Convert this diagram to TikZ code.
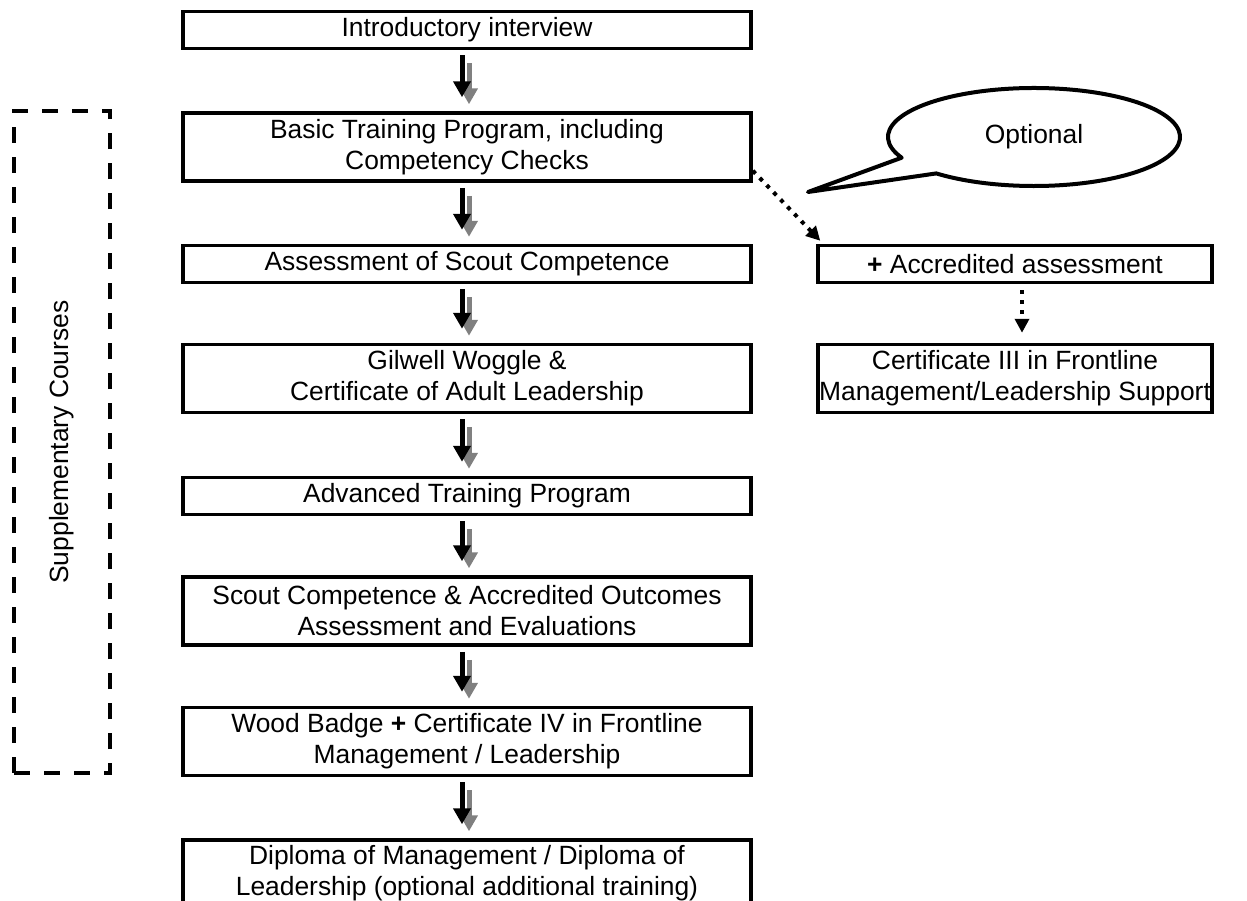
\documentclass[tikz,border=0pt]{standalone}
\usepackage{fontspec}
\setmainfont{Liberation Sans}
\usetikzlibrary{arrows.meta,calc}
\begin{document}
\begin{tikzpicture}[x=0.5pt,y=-0.5pt,
  txt/.style={font=\fontsize{13.2}{15.5}\selectfont},
  box/.style={txt, draw, line width=1.75pt, fill=white, align=center, inner sep=0pt, minimum width=284pt},
  boxa/.style={box, minimum height=18.5pt},
  boxb/.style={box, minimum height=34pt},
  rbox/.style={box, minimum width=197pt},
  blk/.style={line width=2.5pt, -{Triangle[width=8.5pt,length=8pt]}},
  shd/.style={blk, draw=black!50},
  dots/.style={line width=2pt, dash pattern=on 2pt off 3pt, -{Triangle[width=7pt,length=7pt]}},
  supp/.style={draw, line width=2pt, dash pattern=on 8pt off 7pt, minimum width=48pt, minimum height=331pt, inner sep=0pt}
]
\useasboundingbox (0,0) rectangle (1247,900);
\clip (0,0) rectangle (1247,900);
\fill[white] (0,0) rectangle (1247,900);

% left column
\node[boxa] (intro) at (467,30) {Introductory interview};
\node[boxb] (basic) at (467,147) {Basic Training Program, including\\Competency Checks};
\node[boxa] (assess) at (467,264) {Assessment of Scout Competence};
\node[boxb] (gilwell) at (467,378.5) {Gilwell Woggle \&\\Certificate of Adult Leadership};
\node[boxa] (adv) at (467,496) {Advanced Training Program};
\node[boxb] (scout) at (467,611) {Scout Competence \& Accredited Outcomes\\Assessment and Evaluations};
\node[boxb] (wood) at (467,741.5) {Wood Badge \textbf{+} Certificate IV in Frontline\\Management / Leadership};
\node[box, minimum height=33pt] (dip) at (467,873) {Diploma of Management / Diploma of\\Leadership (optional additional training)};

% right column
\node[rbox, minimum height=18.5pt] (acc) at (1015,264) {\textbf{+} Accredited assessment};
\node[rbox, minimum height=34pt] (cert) at (1015,378.5) {Certificate III in Frontline\\Management/Leadership Support};

% supplementary courses
\node[supp] (sup) at (62,442) {};
\node[txt, rotate=90] (suptext) at (62,442) {Supplementary Courses};

% block arrows with shadows
\foreach \a/\b in {intro/basic, basic/assess, assess/gilwell, gilwell/adv, adv/scout, scout/wood, wood/dip}{
  \draw[shd] ([xshift=1pt,yshift=-6.5pt]\a.south) -- ([xshift=1pt,yshift=3.5pt]\b.north);
  \draw[blk] ([xshift=-2.5pt,yshift=-2.5pt]\a.south) -- ([xshift=-2.5pt,yshift=7pt]\b.north);
}

% dotted arrows
\draw[dots] ([yshift=6pt]basic.south east) -- ([xshift=2pt,yshift=1.5pt]acc.north west);
\draw[dots] ([xshift=3.5pt,yshift=-3pt]acc.south) -- ([xshift=3.5pt,yshift=5pt]cert.north);

% callout
\coordinate (tip) at (808,192);
\coordinate (ctr) at (1034,137);
\draw[line width=2pt, fill=white, line join=round]
  (tip) -- ($(ctr)+(205:73pt and 24.5pt)$)
  arc[start angle=205, end angle=-132, x radius=73pt, y radius=24.5pt] -- cycle;
\node[txt] (opt) at (ctr) {Optional};
\end{tikzpicture}
\end{document}
